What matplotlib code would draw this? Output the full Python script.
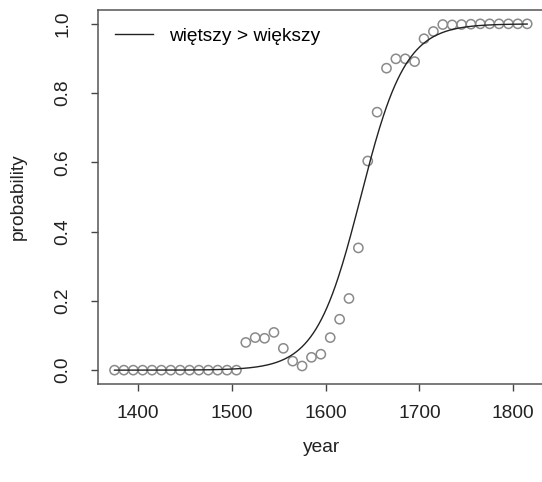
import numpy as np
import matplotlib
matplotlib.use("Agg")
import matplotlib.pyplot as plt

plt.rcParams["font.family"] = ["Liberation Sans", "DejaVu Sans"]

# observed proportions per decade
years = np.arange(1375, 1816, 10)
probs = [0.0] * 14 + [
    0.080, 0.094, 0.092, 0.109, 0.063, 0.026, 0.012, 0.037, 0.046, 0.094,
    0.147, 0.207, 0.353, 0.604, 0.745, 0.872, 0.899, 0.899, 0.891, 0.957,
    0.978, 0.998, 0.997, 0.998, 0.999, 1.0, 1.0, 1.0, 1.0, 1.0, 1.0,
]

# fitted logistic model (midpoint, rate)
fit_mid = 1637.5
fit_rate = 0.042
legend_label = "więtszy > większy"

xticks = [1400, 1500, 1600, 1700, 1800]
yticks = [0.0, 0.2, 0.4, 0.6, 0.8, 1.0]

W, H = 542, 482
fig = plt.figure(figsize=(W / 100, H / 100), dpi=100)
ax = fig.add_axes([98 / W, (H - 384) / H, 447 / W, 374 / H])

fs = 13.8
ax.scatter(years, probs, s=44, facecolors="none", edgecolors="#8a8a8a",
           linewidths=1.1, zorder=2)

xs = np.linspace(years[0], years[-1], 300)
curve = 1 / (1 + np.exp(-fit_rate * (xs - fit_mid)))
ax.plot(xs, curve, color="#222222", lw=1.0, zorder=3, label=legend_label)

ax.set_xlim(1357.4, 1834.0)
ax.set_ylim(-0.04, 1.04)
ax.set_xticks(xticks)
ax.set_yticks(yticks)
ax.set_xticklabels([str(t) for t in xticks], fontsize=fs, color="#222222")
ax.set_yticklabels([f"{t:.1f}" for t in yticks], fontsize=fs, color="#222222",
                   rotation=90, va="center")
ax.tick_params(axis="both", length=5, width=1, color="#444444")
ax.tick_params(axis="x", pad=10)
ax.tick_params(axis="y", pad=14)
for s in ax.spines.values():
    s.set_color("#555555")
    s.set_linewidth(1.1)
ax.spines["right"].set_visible(False)  # box runs past the image edge

ax.set_xlabel("year", fontsize=fs, color="#222222", labelpad=12)
ax.set_ylabel("probability", fontsize=fs, color="#222222", labelpad=20)

ax.legend(loc="upper left", frameon=False, fontsize=fs, handlelength=1.95,
          handletextpad=0.85, borderaxespad=0.5, bbox_to_anchor=(0.0, 1.0))

fig.savefig("out.png", dpi=100)
